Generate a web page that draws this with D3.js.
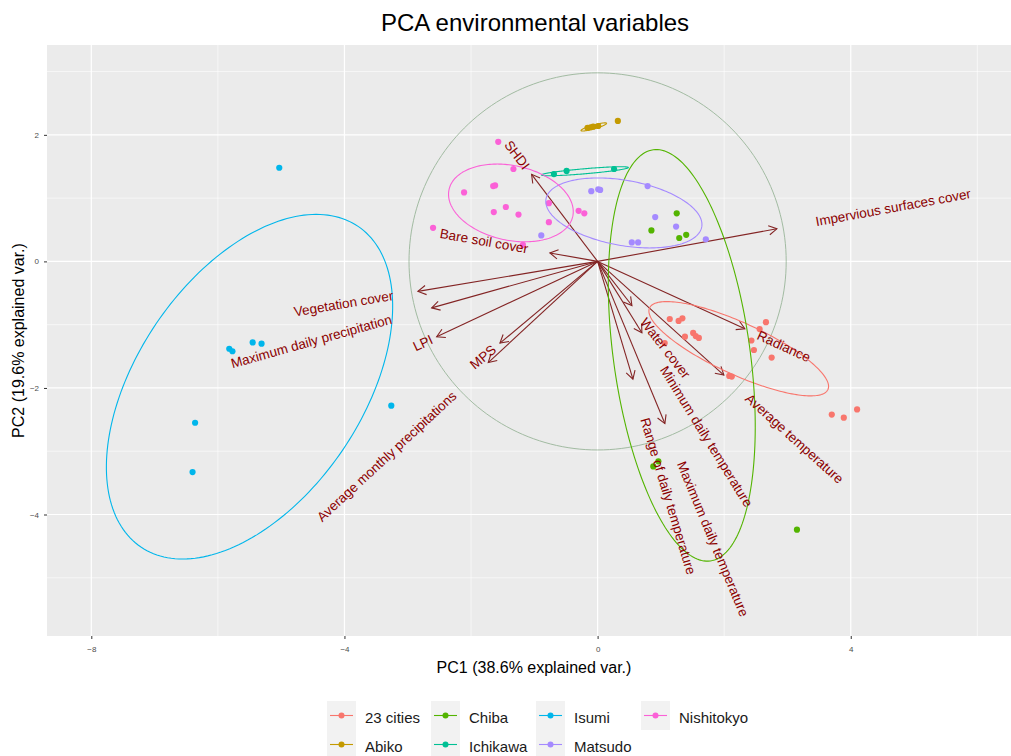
<!DOCTYPE html>
<html>
<head>
<meta charset="utf-8">
<script src="https://cdn.jsdelivr.net/npm/d3@7"></script>
<style>
  body { margin: 0; background: #fff; }
  text { font-family: Arial, "Liberation Sans", sans-serif; }
</style>
</head>
<body>
<svg id="chart" width="1011" height="756"></svg>
<script>
// groups and ggplot hue palette
const groups = ["23 cities", "Abiko", "Chiba", "Ichikawa", "Isumi", "Matsudo", "Nishitokyo"];
const palette = ["#F8766D", "#C49A00", "#53B400", "#00C094", "#00B6EB", "#A58AFF", "#FB61D7"];

// PC scores per group [PC1, PC2]
const pts23cities = [[1.14,-0.91],[1.28,-0.94],[1.34,-0.90],[1.38,-1.19],[1.51,-1.13],[1.55,-1.18],
  [1.60,-1.21],[1.06,-1.29],[2.08,-1.81],[2.12,-1.82],[2.56,-1.07],[2.66,-0.96],[2.43,-1.25],
  [2.47,-1.40],[2.75,-1.52],[3.70,-2.42],[3.89,-2.47],[4.10,-2.34]];
const ptsAbiko = [[-0.16,2.11],[-0.11,2.12],[-0.07,2.13],[0.01,2.14],[0.32,2.22]];
const ptsChiba = [[1.25,0.76],[0.85,0.49],[1.29,0.37],[1.40,0.42],[0.88,-3.24],[0.96,-3.16],[3.15,-4.24]];
const ptsIchikawa = [[-0.69,1.38],[-0.49,1.43],[0.26,1.46]];
const ptsIsumi = [[-5.03,1.48],[-5.82,-1.38],[-5.77,-1.42],[-5.45,-1.28],[-5.31,-1.30],
  [-6.36,-2.55],[-6.40,-3.33],[-3.26,-2.28]];
const ptsMatsudo = [[-0.10,1.11],[0.01,1.14],[0.04,1.13],[0.79,1.19],[0.91,0.70],[1.24,0.55],
  [0.54,0.30],[0.64,0.30],[1.71,0.35],[-0.89,0.41]];
const ptsNishitokyo = [[-1.57,1.89],[-1.33,1.46],[-1.62,1.20],[-1.65,1.19],[-2.11,1.09],[-1.64,0.78],
  [-1.45,0.86],[-1.25,0.74],[-0.77,0.92],[-0.77,0.62],[-0.30,0.80],[-0.21,0.76],[-2.60,0.53],[-1.18,0.26]];

// 68% ellipses per group: [centre PC1, centre PC2, semi-major, semi-minor, angle deg]
const ellipses = [
  [2.23, -1.38, 1.55, 0.41, -24.6],
  [-0.06, 2.125, 0.21, 0.03, 16],
  [1.33, -1.485, 3.28, 1.08, -82.1],
  [-0.20, 1.425, 0.69, 0.04, 4.9],
  [-5.50, -1.98, 3.06, 1.78, 55.9],
  [0.415, 0.766, 1.25, 0.515, -10.2],
  [-1.37, 0.924, 1.00, 0.59, -12.2]
];
const circleRadius = 2.98;

// variable loadings (arrow tips)
const varNames = ["Impervious surfaces cover", "Bare soil cover", "SHDI", "Vegetation cover",
  "Maximum daily precipitation", "LPI", "MPS", "Average monthly precipitations", "Water cover",
  "Minimum daily temperature", "Range of daily temperature", "Maximum daily temperature",
  "Radiance", "Average temperature"];
const varX = [2.833, -0.754, -1.043, -2.839, -2.622, -2.543, -1.543, -1.728, 0.542, 0.700, 0.558, 1.063, 2.327, 1.995];
const varY = [0.515, 0.134, 1.376, -0.474, -0.734, -1.191, -1.292, -1.599, -0.697, -1.128, -1.861, -2.563, -1.064, -1.797];

const xTicks = [-8, -4, 0, 4];
const yTicks = [-4, -2, 0, 2];
const xMinor = [-6, -2, 2, 6];
const yMinor = [-5, -3, -1, 1, 3];

const groupPts = [pts23cities, ptsAbiko, ptsChiba, ptsIchikawa, ptsIsumi, ptsMatsudo, ptsNishitokyo];

const panel = { left: 47, right: 1021, top: 45, bottom: 636 };
const x = d3.scaleLinear().domain([-8.70, 6.69]).range([panel.left, panel.right]);
const y = d3.scaleLinear().domain([-5.92, 3.42]).range([panel.bottom, panel.top]);
const color = d3.scaleOrdinal().domain(groups).range(palette);

const svg = d3.select("#chart");

svg.append("defs").append("clipPath").attr("id", "clip")
  .append("rect")
  .attr("x", panel.left).attr("y", panel.top)
  .attr("width", panel.right - panel.left).attr("height", panel.bottom - panel.top);

svg.select("defs").append("marker")
  .attr("id", "arrow")
  .attr("viewBox", "-10 -6 12 12")
  .attr("refX", 0).attr("refY", 0)
  .attr("markerWidth", 12).attr("markerHeight", 12)
  .attr("markerUnits", "userSpaceOnUse")
  .attr("orient", "auto")
  .append("path")
  .attr("d", "M-8,-4.6L0,0L-8,4.6")
  .attr("fill", "none")
  .attr("stroke", "#832424")
  .attr("stroke-width", 1.1);

svg.append("rect")
  .attr("x", panel.left).attr("y", panel.top)
  .attr("width", panel.right - panel.left).attr("height", panel.bottom - panel.top)
  .attr("fill", "#EBEBEB");

const plot = svg.append("g").attr("clip-path", "url(#clip)");

// grid
plot.selectAll(".vminor").data(xMinor).enter().append("line")
  .attr("x1", d => x(d)).attr("x2", d => x(d))
  .attr("y1", panel.top).attr("y2", panel.bottom)
  .attr("stroke", "#fff").attr("stroke-width", 0.6);
plot.selectAll(".hminor").data(yMinor).enter().append("line")
  .attr("y1", d => y(d)).attr("y2", d => y(d))
  .attr("x1", panel.left).attr("x2", panel.right)
  .attr("stroke", "#fff").attr("stroke-width", 0.6);
plot.selectAll(".vmajor").data(xTicks).enter().append("line")
  .attr("x1", d => x(d)).attr("x2", d => x(d))
  .attr("y1", panel.top).attr("y2", panel.bottom)
  .attr("stroke", "#fff").attr("stroke-width", 1.2);
plot.selectAll(".hmajor").data(yTicks).enter().append("line")
  .attr("y1", d => y(d)).attr("y2", d => y(d))
  .attr("x1", panel.left).attr("x2", panel.right)
  .attr("stroke", "#fff").attr("stroke-width", 1.2);

const line = d3.line().x(d => x(d[0])).y(d => y(d[1]));

// correlation circle
const circlePts = d3.range(0, 201).map(i => {
  const t = i / 200 * 2 * Math.PI;
  return [circleRadius * Math.cos(t), circleRadius * Math.sin(t)];
});
plot.append("path")
  .attr("d", line(circlePts))
  .attr("fill", "none")
  .attr("stroke", "#A2BBA2")
  .attr("stroke-width", 1);

// arrows
plot.selectAll(".arrow").data(varNames).enter().append("line")
  .attr("x1", x(0)).attr("y1", y(0))
  .attr("x2", (d, i) => x(varX[i])).attr("y2", (d, i) => y(varY[i]))
  .attr("stroke", "#832424")
  .attr("stroke-width", 1.1)
  .attr("marker-end", "url(#arrow)");

// points
groups.forEach((g, gi) => {
  plot.selectAll(".pt" + gi).data(groupPts[gi]).enter().append("circle")
    .attr("cx", d => x(d[0]))
    .attr("cy", d => y(d[1]))
    .attr("r", 3.1)
    .attr("fill", color(g));
});

// ellipses
groups.forEach((g, gi) => {
  const [cx, cy, a, b, ang] = ellipses[gi];
  const r = ang * Math.PI / 180;
  const ePts = d3.range(0, 201).map(i => {
    const t = i / 200 * 2 * Math.PI;
    const u = a * Math.cos(t), v = b * Math.sin(t);
    return [cx + u * Math.cos(r) - v * Math.sin(r), cy + u * Math.sin(r) + v * Math.cos(r)];
  });
  plot.append("path")
    .attr("d", line(ePts))
    .attr("fill", "none")
    .attr("stroke", color(g))
    .attr("stroke-width", 1.1);
});

// variable labels, ggbiplot style: angle along arrow, hjust beyond the tip
plot.selectAll(".varlabel").data(varNames).enter().append("text")
  .attr("font-size", 13.5)
  .attr("fill", "#8B0000")
  .attr("dominant-baseline", "central")
  .text(d => d)
  .each(function(d, i) {
    const vx = varX[i], vy = varY[i];
    const angle = Math.atan(vy / vx) * 180 / Math.PI;
    const hjust = (1 - 1.5 * Math.sign(vx)) / 2;
    const w = this.getComputedTextLength();
    d3.select(this)
      .attr("x", -hjust * w)
      .attr("y", 0)
      .attr("transform", `translate(${x(vx)},${y(vy)}) rotate(${-angle})`);
  });

// axes
const xAxis = svg.append("g")
  .attr("transform", `translate(0,${panel.bottom})`)
  .call(d3.axisBottom(x).tickValues(xTicks).tickSize(3).tickPadding(7).tickFormat(d3.format("d")));
const yAxis = svg.append("g")
  .attr("transform", `translate(${panel.left},0)`)
  .call(d3.axisLeft(y).tickValues(yTicks).tickSize(3).tickPadding(5).tickFormat(d3.format("d")));
[xAxis, yAxis].forEach(ax => {
  ax.select(".domain").remove();
  ax.selectAll(".tick line").attr("stroke", "#333333");
  ax.selectAll(".tick text").attr("fill", "#4D4D4D").attr("font-size", 8)
    .style("font-family", "Arial, 'Liberation Sans', sans-serif");
});

// titles
svg.append("text")
  .attr("x", 535).attr("y", 22)
  .attr("text-anchor", "middle").attr("dominant-baseline", "central")
  .attr("font-size", 24).attr("fill", "#000")
  .text("PCA environmental variables");
svg.append("text")
  .attr("x", 534).attr("y", 667)
  .attr("text-anchor", "middle").attr("dominant-baseline", "central")
  .attr("font-size", 16).attr("fill", "#000")
  .text("PC1 (38.6% explained var.)");
svg.append("text")
  .attr("transform", `translate(18,${(panel.top + panel.bottom) / 2}) rotate(-90)`)
  .attr("text-anchor", "middle").attr("dominant-baseline", "central")
  .attr("font-size", 16).attr("fill", "#000")
  .text("PC2 (19.6% explained var.)");

// legend (filled column by column, two rows)
const legendCols = [327, 431, 536, 641];
const legendRows = [701, 730];
const keySize = 29;
const legend = svg.append("g");
groups.forEach((g, i) => {
  const bx = legendCols[Math.floor(i / 2)], by = legendRows[i % 2];
  const item = legend.append("g").attr("transform", `translate(${bx},${by})`);
  item.append("rect").attr("width", keySize).attr("height", keySize).attr("fill", "#F2F2F2");
  item.append("line")
    .attr("x1", 3).attr("x2", keySize - 3)
    .attr("y1", keySize / 2).attr("y2", keySize / 2)
    .attr("stroke", color(g)).attr("stroke-width", 1.1);
  item.append("circle")
    .attr("cx", keySize / 2).attr("cy", keySize / 2).attr("r", 3)
    .attr("fill", color(g));
  item.append("text")
    .attr("x", 38).attr("y", keySize / 2 + 1.5)
    .attr("dominant-baseline", "central")
    .attr("font-size", 15).attr("fill", "#1A1A1A")
    .text(g);
});
</script>
</body>
</html>
